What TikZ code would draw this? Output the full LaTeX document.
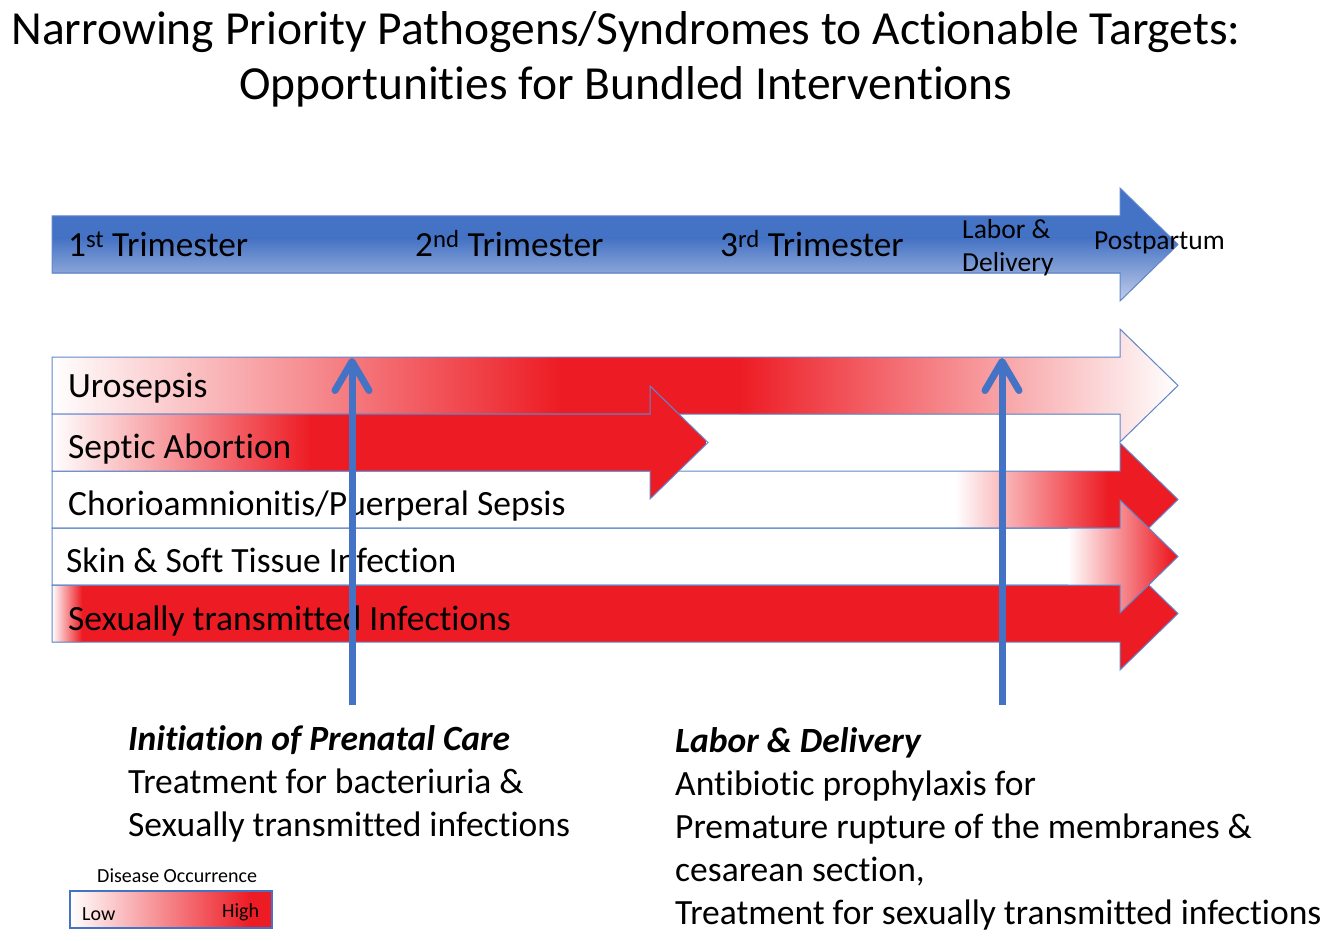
\documentclass[tikz,border=0pt]{standalone}
\usepackage{fontspec}
\setmainfont{Carlito}[Ligatures=NoCommon]
\usetikzlibrary{arrows.meta}
\definecolor{ppblue}{RGB}{68,114,196}
\definecolor{pplight}{RGB}{196,207,233}
\definecolor{hired}{RGB}{237,28,36}
\newcommand{\bararrow}[2]{(52,#1) -- (#2,#1) -- (#2,#1-28) -- (#2+58,#1+28.5) -- (#2,#1+85) -- (#2,#1+57) -- (52,#1+57) -- cycle}
\begin{document}
\begin{tikzpicture}[x=1pt,y=-1pt,
		edge/.style={draw=ppblue!85,line width=1pt},
		ttl/.style={anchor=base,inner sep=0pt,font=\fontsize{47.5}{56}\selectfont},
		tri/.style={anchor=base west,inner sep=0pt,font=\fontsize{35.3}{42}\selectfont},
		sml/.style={anchor=base west,inner sep=0pt,font=\fontsize{27.5}{33}\selectfont},
		row/.style={anchor=base west,inner sep=0pt,font=\fontsize{35.5}{42}\selectfont},
		txt/.style={anchor=base west,inner sep=0pt,font=\fontsize{35.5}{42}\selectfont},
		key/.style={anchor=base west,inner sep=0pt,font=\fontsize{20}{24}\selectfont},
		upline/.style={ppblue,line width=7pt,-{Straight Barb[length=29pt,width=34pt,round]}}]
	\useasboundingbox (0,0) rectangle (1335,941);
	\node[ttl] (title1) at (626,45) {Narrowing Priority Pathogens/Syndromes to Actionable Targets:};
	\node[ttl] (title2) at (626,100) {Opportunities for Bundled Interventions};
	\begin{scope}
		\clip \bararrow{216}{1120};
		\fill[ppblue] (52,188) rectangle (1178,238);
		\fill[top color=ppblue,bottom color=pplight] (52,238) rectangle (1178,302);
	\end{scope}
	\draw[edge] \bararrow{216}{1120};
	\begin{scope}
		\clip \bararrow{585}{1120};
		\fill[left color=white,right color=hired] (52,557) rectangle (82,670);
		\fill[hired] (82,557) rectangle (1178,670);
	\end{scope}
	\draw[edge] \bararrow{585}{1120};
	\begin{scope}
		\clip \bararrow{471}{1120};
		\fill[left color=white,right color=hired] (955,443) rectangle (1108,556);
		\fill[hired] (1108,443) rectangle (1178,556);
	\end{scope}
	\draw[edge] \bararrow{471}{1120};
	\begin{scope}
		\clip \bararrow{528}{1120};
		\fill[left color=white,right color=hired] (1068,500) rectangle (1172,613);
		\fill[hired] (1172,500) rectangle (1178,613);
	\end{scope}
	\draw[edge] \bararrow{528}{1120};
	\begin{scope}
		\clip \bararrow{357}{1120};
		\fill[left color=white,right color=hired] (52,329) rectangle (560,442);
		\fill[hired] (560,329) rectangle (740,442);
		\fill[left color=hired,right color=white] (740,329) rectangle (1178,442);
	\end{scope}
	\draw[edge] \bararrow{357}{1120};
	\begin{scope}
		\clip \bararrow{414}{650};
		\fill[left color=white,right color=hired] (52,386) rectangle (310,499);
		\fill[hired] (310,386) rectangle (706,499);
	\end{scope}
	\draw[edge] \bararrow{414}{650};
	\node[tri] (tri1) at (68,257) {1\textsuperscript{st} Trimester};
	\node[tri] (tri2) at (415,257) {2\textsuperscript{nd} Trimester};
	\node[tri] (tri3) at (720,257) {3\textsuperscript{rd} Trimester};
	\node[sml] (labor) at (962,239) {Labor \&};
	\node[sml] (deliv) at (962,272) {Delivery};
	\node[sml] (post) at (1094,250) {Postpartum};
	\node[row] (uro) at (68,397) {Urosepsis};
	\node[row] (sep) at (68,458) {Septic Abortion};
	\node[row] (chorio) at (68,515) {Chorioamnionitis/Puerperal Sepsis};
	\node[row] (skin) at (66,572) {Skin \& Soft Tissue Infection};
	\node[row] (sti) at (68,630) {Sexually transmitted Infections};
	\node[txt,font=\fontsize{35.5}{42}\selectfont\bfseries\itshape] (pnc) at (128,750) {Initiation of Prenatal Care};
	\node[txt] (pnc1) at (128,793) {Treatment for bacteriuria \&};
	\node[txt] (pnc2) at (128,836) {Sexually transmitted infections};
	\node[txt,font=\fontsize{35.5}{42}\selectfont\bfseries\itshape] (ld) at (675,752) {Labor \& Delivery};
	\node[txt] (ld1) at (675,795) {Antibiotic prophylaxis for};
	\node[txt] (ld2) at (675,838) {Premature rupture of the membranes \&};
	\node[txt] (ld3) at (675,881) {cesarean section,};
	\node[txt] (ld4) at (675,924) {Treatment for sexually transmitted infections};
	\fill[left color=white,right color=hired] (70,891) rectangle (250,928);
	\fill[hired] (250,891) rectangle (272,928);
	\draw[ppblue,line width=1.5pt] (70,891) rectangle (272,928);
	\node[key] (occ) at (97,882) {Disease Occurrence};
	\node[key] (low) at (82,920) {Low};
	\node[key] (high) at (222,917) {High};
	\coordinate (pcfoot) at (352,705);
	\coordinate (pctip) at (352,358);
	\coordinate (ldfoot) at (1002,705);
	\coordinate (ldtip) at (1002,358);
	\draw[upline] (pcfoot) -- (pctip);
	\draw[upline] (ldfoot) -- (ldtip);
\end{tikzpicture}
\end{document}
